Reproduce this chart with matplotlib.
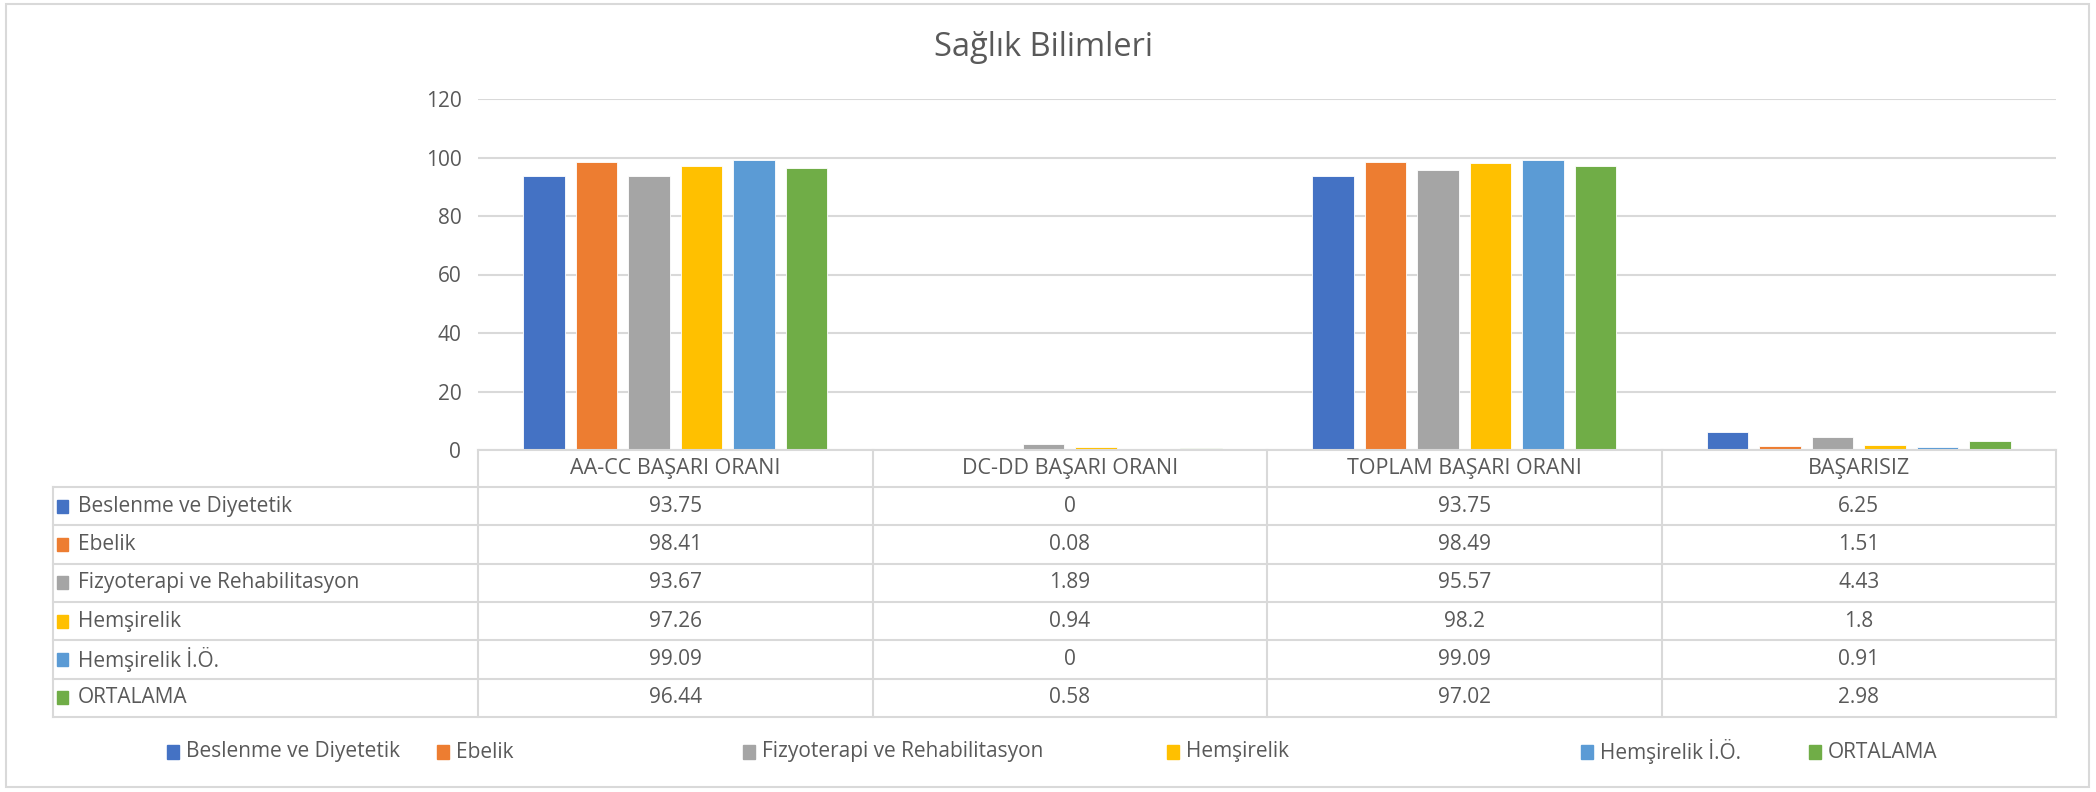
import matplotlib.pyplot as plt
from matplotlib.patches import Rectangle
from matplotlib.lines import Line2D

plt.rcParams['font.family'] = ['Open Sans', 'DejaVu Sans']

categories = ["AA-CC BAŞARI ORANI", "DC-DD BAŞARI ORANI", "TOPLAM BAŞARI ORANI", "BAŞARISIZ"]
names = ["Beslenme ve Diyetetik", "Ebelik", "Fizyoterapi ve Rehabilitasyon",
         "Hemşirelik", "Hemşirelik İ.Ö.", "ORTALAMA"]
beslenme = [93.75, 0, 93.75, 6.25]
ebelik = [98.41, 0.08, 98.49, 1.51]
fizyoterapi = [93.67, 1.89, 95.57, 4.43]
hemsirelik = [97.26, 0.94, 98.2, 1.8]
hemsirelik_io = [99.09, 0, 99.09, 0.91]
ortalama = [96.44, 0.58, 97.02, 2.98]
series = [beslenme, ebelik, fizyoterapi, hemsirelik, hemsirelik_io, ortalama]
colors = ["#4472C4", "#ED7D31", "#A5A5A5", "#FFC000", "#5B9BD5", "#70AD47"]

W, H = 2096, 792
txt = "#595959"
grid = "#d9d9d9"
fs = 15

fig = plt.figure(figsize=(W / 100, H / 100), dpi=100)

# plot area
ax = fig.add_axes([478 / W, 1 - 450 / H, (2056 - 478) / W, (450 - 99) / H])
n = len(series)
step, bw = 0.133, 0.105
for i, (vals, c) in enumerate(zip(series, colors)):
    off = (i - (n - 1) / 2) * step
    ax.bar([k + off for k in range(len(categories))], vals, bw, color=c,
           edgecolor="white", linewidth=0.6, zorder=3)
ax.set_xlim(-0.5, len(categories) - 0.5)
ax.set_ylim(0, 120)
ax.set_yticks(range(0, 121, 20))
ax.set_xticks([])
ax.yaxis.grid(True, color=grid, lw=1.5)
for s in ax.spines.values():
    s.set_visible(False)
ax.tick_params(axis="y", length=0, pad=12, labelsize=fs, labelcolor=txt)

# overlay in pixel coords for the data table, legend and border
ov = fig.add_axes([0, 0, 1, 1], zorder=5)
ov.set_xlim(0, W)
ov.set_ylim(H, 0)
ov.axis("off")
ov.patch.set_alpha(0)

def to_px(x):
    d = ax.transData.transform((x, 0))
    return ov.transData.inverted().transform(d)[0]

edges = [to_px(k - 0.5) for k in range(len(categories) + 1)]
top, head_bot, row_h = 450, 487, 38.3
row_lines = [head_bot + r * row_h for r in range(n + 1)]
bottom = row_lines[-1]
left = 53

ov.add_line(Line2D([edges[0], edges[-1]], [top, top], color=grid, lw=1.5))
for y in row_lines:
    ov.add_line(Line2D([left, edges[-1]], [y, y], color=grid, lw=1.5))
ov.add_line(Line2D([left, left], [head_bot, bottom], color=grid, lw=1.5))
for x in edges:
    ov.add_line(Line2D([x, x], [top, bottom], color=grid, lw=1.5))

for k, cat in enumerate(categories):
    cx = (edges[k] + edges[k + 1]) / 2
    ov.text(cx, (top + head_bot) / 2, cat, ha="center", va="center", fontsize=fs + 0.5, color=txt)
    for r, vals in enumerate(series):
        cy = row_lines[r] + row_h / 2
        ov.text(cx, cy, f"{vals[k]:g}", ha="center", va="center", fontsize=fs, color=txt)

for r, (name, c) in enumerate(zip(names, colors)):
    cy = row_lines[r] + row_h / 2
    ov.add_patch(Rectangle((57, cy - 6.5), 11, 13, color=c))
    ov.text(78, cy, name, ha="left", va="center", fontsize=fs, color=txt)

# legend
leg_x = [167, 437, 743, 1167, 1581, 1809]
leg_y = 752
for x, name, c in zip(leg_x, names, colors):
    ov.add_patch(Rectangle((x, leg_y - 7), 12, 14, color=c))
    ov.text(x + 19, leg_y, name, ha="left", va="center", fontsize=fs, color=txt)

# title and border
ov.text(1043, 47, "Sağlık Bilimleri", ha="center", va="center", fontsize=23.5, color=txt)
ov.add_patch(Rectangle((6, 4), W - 13, H - 9, fill=False, edgecolor=grid, lw=1.5))

fig.savefig("out.png", dpi=100)
